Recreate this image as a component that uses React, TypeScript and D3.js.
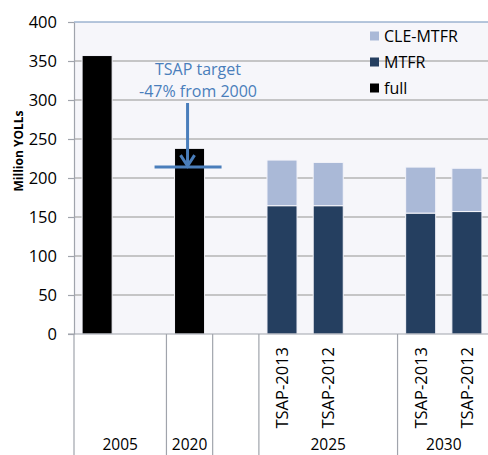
import { useEffect, useRef } from 'react';
import * as d3 from 'd3';

// slot layout along the x axis (empty slots are spacers)
const slotKeys = ['2005', 'gap-a', '2020', 'gap-b', '2025-TSAP-2013', '2025-TSAP-2012', 'gap-c', '2030-TSAP-2013', '2030-TSAP-2012'];
const subLabels = ['', '', '', '', 'TSAP-2013', 'TSAP-2012', '', 'TSAP-2013', 'TSAP-2012'];
const fullValues = [357, 0, 238, 0, 0, 0, 0, 0, 0];
const mtfrValues = [0, 0, 0, 0, 164.5, 164.5, 0, 155, 157];
const cleMtfrValues = [0, 0, 0, 0, 58.5, 55.5, 0, 59, 55.5];

const yearLabels = ['2005', '2020', '', '2025', '2030'];
const yearSpans = [2, 1, 1, 3, 2];

const yTicks = [0, 50, 100, 150, 200, 250, 300, 350, 400];
const targetValue = 214;

const legendItems = [
    { name: 'CLE-MTFR', color: '#aab9d7' },
    { name: 'MTFR', color: '#253f60' },
    { name: 'full', color: '#000000' }
];

const FONT = '"Open Sans", "Liberation Sans", sans-serif';

export default function App() {
    const svgRef = useRef<SVGSVGElement>(null);

    useEffect(() => {
        if (!svgRef.current) return;
        const root = d3.select(svgRef.current);
        root.selectAll('*').remove();

        const left = 74, right = 490, top = 22, bottom = 334;

        const x = d3.scaleBand<string>().domain(slotKeys).range([left, right]).padding(0);
        const y = d3.scaleLinear().domain([0, 400]).range([bottom, top]);
        const bw = x.bandwidth() * 0.65;
        const cx = (i: number) => (x(slotKeys[i]) || 0) + x.bandwidth() / 2;

        // plot background
        root.append('rect')
            .attr('x', left).attr('y', top)
            .attr('width', right - left).attr('height', bottom - top)
            .attr('fill', '#f6f6fa');

        // gridlines
        root.append('g')
            .selectAll('line')
            .data(yTicks.filter(t => t > 0 && t < 400))
            .enter()
            .append('line')
            .attr('x1', left).attr('x2', right)
            .attr('y1', d => y(d)).attr('y2', d => y(d))
            .attr('stroke', '#b4b4b4')
            .attr('stroke-width', 1.5);

        // top border
        root.append('line')
            .attr('x1', left).attr('x2', right)
            .attr('y1', top).attr('y2', top)
            .attr('stroke', '#6f8fba')
            .attr('stroke-width', 1.2);

        // bars
        const bars = root.append('g');
        slotKeys.forEach((k, i) => {
            const x0 = cx(i) - bw / 2;
            if (fullValues[i] > 0) {
                bars.append('rect')
                    .attr('x', x0).attr('width', bw)
                    .attr('y', y(fullValues[i])).attr('height', y(0) - y(fullValues[i]))
                    .attr('fill', '#000')
                    .attr('stroke', '#f4f4fa').attr('stroke-width', 1);
            }
            if (mtfrValues[i] > 0) {
                bars.append('rect')
                    .attr('x', x0).attr('width', bw)
                    .attr('y', y(mtfrValues[i])).attr('height', y(0) - y(mtfrValues[i]))
                    .attr('fill', '#253f60')
                    .attr('stroke', '#f4f4fa').attr('stroke-width', 1);
                const tot = mtfrValues[i] + cleMtfrValues[i];
                bars.append('rect')
                    .attr('x', x0).attr('width', bw)
                    .attr('y', y(tot)).attr('height', y(mtfrValues[i]) - y(tot))
                    .attr('fill', '#aab9d7')
                    .attr('stroke', '#f4f4fa').attr('stroke-width', 1);
            }
        });

        // y axis
        const yAxis = root.append('g')
            .attr('transform', `translate(${left},0)`)
            .call(d3.axisLeft(y).tickValues(yTicks).tickSize(6).tickSizeOuter(0).tickPadding(11));
        yAxis.select('.domain').attr('stroke', '#a0a4ac').attr('stroke-width', 1.2);
        yAxis.selectAll('.tick line').attr('stroke', '#a0a4ac').attr('stroke-width', 1.2);
        yAxis.selectAll('.tick text')
            .attr('fill', '#000')
            .style('font-family', FONT)
            .style('font-size', '16.5px');

        // x axis line
        root.append('line')
            .attr('x1', left - 6).attr('x2', right)
            .attr('y1', bottom).attr('y2', bottom)
            .attr('stroke', '#a0a4ac').attr('stroke-width', 1.2);

        // group separators and year labels
        let start = 0;
        yearLabels.forEach((label, gi) => {
            const end = start + yearSpans[gi];
            const xs = x(slotKeys[start]) || 0;
            const xe = end < slotKeys.length ? (x(slotKeys[end]) || 0) : right;
            root.append('line')
                .attr('x1', xs).attr('x2', xs)
                .attr('y1', bottom).attr('y2', 455)
                .attr('stroke', '#a0a4ac').attr('stroke-width', 1.2);
            root.append('text')
                .attr('x', (xs + xe) / 2)
                .attr('y', 450)
                .attr('text-anchor', 'middle')
                .style('font-family', FONT)
                .style('font-size', '15.5px')
                .text(label);
            start = end;
        });

        // rotated sub-category labels
        subLabels.forEach((label, i) => {
            if (!label) return;
            root.append('text')
                .attr('transform', `translate(${cx(i) + 6},347) rotate(-90)`)
                .attr('text-anchor', 'end')
                .style('font-family', FONT)
                .style('font-size', '16.5px')
                .text(label);
        });

        // y axis title
        root.append('text')
            .attr('transform', 'translate(23,151) rotate(-90)')
            .attr('text-anchor', 'middle')
            .style('font-family', FONT)
            .style('font-size', '12px')
            .style('font-weight', 'bold')
            .text('Million YOLLs');

        // legend
        const legend = root.append('g');
        legendItems.forEach((item, i) => {
            const ly = 36 + i * 26;
            legend.append('rect')
                .attr('x', 370).attr('y', ly - 4.5)
                .attr('width', 9).attr('height', 9)
                .attr('fill', item.color);
            legend.append('text')
                .attr('x', 384).attr('y', ly)
                .attr('dy', '0.35em')
                .style('font-family', FONT)
                .style('font-size', '16px')
                .text(item.name);
        });

        // TSAP target annotation
        const blue = '#4a7ebb';
        const ax = cx(2) - 2;
        const ty = y(targetValue);
        root.append('text')
            .attr('x', 198).attr('y', 75)
            .attr('text-anchor', 'middle')
            .attr('fill', blue)
            .style('font-family', FONT)
            .style('font-size', '16px')
            .text('TSAP target');
        root.append('text')
            .attr('x', 198).attr('y', 97)
            .attr('text-anchor', 'middle')
            .attr('fill', blue)
            .style('font-family', FONT)
            .style('font-size', '16px')
            .text('-47% from 2000');
        root.append('line')
            .attr('x1', ax).attr('x2', ax)
            .attr('y1', 103).attr('y2', ty - 1)
            .attr('stroke', blue).attr('stroke-width', 3);
        root.append('path')
            .attr('d', `M${ax - 7},${ty - 12}L${ax},${ty - 1}L${ax + 7},${ty - 12}`)
            .attr('fill', 'none')
            .attr('stroke', blue).attr('stroke-width', 3);
        root.append('line')
            .attr('x1', ax - 33).attr('x2', ax + 34)
            .attr('y1', ty).attr('y2', ty)
            .attr('stroke', blue).attr('stroke-width', 3);
    }, []);

    return (
        <div style={{ position: 'absolute', left: 0, top: 0 }}>
            <svg ref={svgRef} width={488} height={455} style={{ display: 'block', background: '#fff' }} />
        </div>
    );
}
